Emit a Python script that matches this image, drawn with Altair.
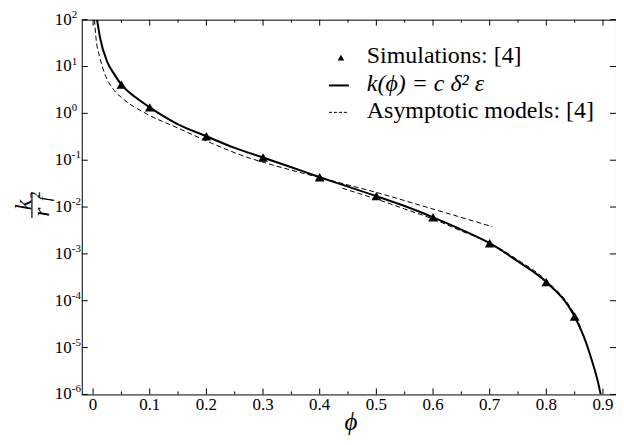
import altair as alt
import pandas as pd

# ---- data ----
sim_phi = [0.05, 0.1, 0.2, 0.3, 0.4, 0.5, 0.6, 0.7, 0.8, 0.85]
sim_k = [4.1, 1.34, 0.324, 0.114, 0.0434, 0.0171, 0.00604, 0.00169, 2.5e-4, 4.6e-5]

model_phi = [0.007, 0.0125, 0.025, 0.0375, 0.05, 0.075, 0.1, 0.15, 0.2, 0.25, 0.3, 0.35,
             0.4, 0.45, 0.5, 0.55, 0.6, 0.65, 0.7, 0.75, 0.8, 0.85, 0.87, 0.88, 0.89, 0.896]
model_k = [100, 40, 12.6, 6.8, 4.1, 2.2, 1.34, 0.583, 0.324, 0.183, 0.114, 0.0708,
           0.0434, 0.0273, 0.0171, 0.0105, 0.00604, 0.00331, 0.00169, 6.9e-4, 2.5e-4,
           4.6e-5, 1.29e-5, 5.5e-6, 2.1e-6, 1.0e-6]

asym_low_phi = [0.0025, 0.005, 0.0118, 0.0206, 0.035, 0.053, 0.094, 0.152, 0.211, 0.27,
                0.3, 0.4, 0.5, 0.6, 0.705]
asym_low_k = [100, 42, 15.8, 7.0, 3.35, 2.04, 0.984, 0.472, 0.226, 0.1175,
              0.0906, 0.0425, 0.0205, 0.00906, 0.0038]

asym_high_phi = [0.44, 0.469, 0.5, 0.55, 0.6, 0.65, 0.7, 0.75, 0.8, 0.85, 0.86]
asym_high_k = [0.0253, 0.0195, 0.0148, 0.0091, 0.00556, 0.00309, 0.00171, 7.4e-4,
               2.7e-4, 5.0e-5, 2.8e-5]

x_tick_major = [0, 0.1, 0.2, 0.3, 0.4, 0.5, 0.6, 0.7, 0.8, 0.9]
x_tick_labels = ["0", "0.1", "0.2", "0.3", "0.4", "0.5", "0.6", "0.7", "0.8", "0.9"]
x_tick_minor = [0.05, 0.15, 0.25, 0.35, 0.45, 0.55, 0.65, 0.75, 0.85]
y_tick_values = [1e-6, 1e-5, 1e-4, 1e-3, 1e-2, 1e-1, 1e0, 1e1, 1e2]
y_tick_base = ["10"] * 9
y_tick_exp = ["-6", "-5", "-4", "-3", "-2", "-1", "0", "1", "2"]

legend_labels = ["Simulations: [4]", "k(ϕ) = c δ² ε", "Asymptotic models: [4]"]
x_title = "ϕ"
y_title_num = "k"
y_title_den = "r"
y_title_sub = "f"
y_title_sup = "2"

FONT = "Liberation Serif"
W, H = 536, 376

df_sim = pd.DataFrame({"phi": sim_phi, "k": sim_k})
df_model = pd.DataFrame({"phi": model_phi, "k": model_k})
df_asym = pd.concat([
    pd.DataFrame({"phi": asym_low_phi, "k": asym_low_k, "seg": "low"}),
    pd.DataFrame({"phi": asym_high_phi, "k": asym_high_k, "seg": "high"}),
])
df_xlab = pd.DataFrame({"phi": x_tick_major, "lab": x_tick_labels})
df_ylab = pd.DataFrame({"k": y_tick_values, "base": y_tick_base, "exp": y_tick_exp})

xs = alt.Scale(domain=[-0.02, 0.923], nice=False, zero=False)
ys = alt.Scale(type="log", domain=[1e-6, 100], nice=False)

X = alt.X("phi:Q", scale=xs, axis=None)
Y = alt.Y("k:Q", scale=ys, axis=None)

model = alt.Chart(df_model).mark_line(color="black", strokeWidth=2, clip=True,
                                      interpolate="monotone").encode(
    x=X, y=Y, order="phi:Q")

asym = alt.Chart(df_asym).mark_line(color="black", strokeWidth=1, strokeDash=[5, 3],
                                    clip=True, interpolate="monotone").encode(
    x=X, y=Y, detail="seg:N", order="phi:Q")

sims = alt.Chart(df_sim).mark_point(shape="triangle-up", filled=True, color="black",
                                    size=95, opacity=1).encode(x=X, y=Y)

def xticks(vals, y0, y1):
    return alt.Chart(pd.DataFrame({"phi": vals})).mark_rule(color="black", strokeWidth=1).encode(
        x=X, y=alt.value(y0), y2=alt.value(y1))

def yticks(x0, x1):
    return alt.Chart(pd.DataFrame({"k": y_tick_values})).mark_rule(color="black", strokeWidth=1).encode(
        y=Y, x=alt.value(x0), x2=alt.value(x1))

ticks = [
    xticks(x_tick_major, H, H - 6), xticks(x_tick_minor, H, H - 3),
    xticks(x_tick_major, 0, 6), xticks(x_tick_minor, 0, 3),
    yticks(0, 6), yticks(W, W - 6),
]

# tick labels
xlab = alt.Chart(df_xlab).mark_text(font=FONT, fontSize=17, color="black",
                                    align="center", baseline="middle").encode(
    x=X, y=alt.value(H + 11), text="lab:N")
ylab_base = alt.Chart(df_ylab).mark_text(font=FONT, fontSize=17, color="black",
                                         align="left", baseline="middle").encode(
    y=Y, x=alt.value(-27), text="base:N")
ylab_exp = alt.Chart(df_ylab).mark_text(font=FONT, fontSize=11, color="black",
                                        align="left", baseline="middle", dy=-5).encode(
    y=Y, x=alt.value(-10), text="exp:N")

# legend
leg_tri = alt.Chart().mark_point(shape="triangle-up", filled=True, color="black",
                                 size=45, opacity=1).encode(x=alt.value(260), y=alt.value(38))
leg_solid = alt.Chart().mark_rule(color="black", strokeWidth=2).encode(
    x=alt.value(248), x2=alt.value(268), y=alt.value(66))
leg_dash = alt.Chart().mark_rule(color="black", strokeWidth=1, strokeDash=[3, 2]).encode(
    x=alt.value(248), x2=alt.value(268), y=alt.value(93))
leg_t1 = alt.Chart().mark_text(text=legend_labels[0], align="left", baseline="alphabetic",
                               font=FONT, fontSize=24, color="black").encode(
    x=alt.value(286), y=alt.value(43))
leg_t2 = alt.Chart().mark_text(text=legend_labels[1], align="left", baseline="alphabetic",
                               font=FONT, fontSize=24, fontStyle="italic", color="black").encode(
    x=alt.value(286), y=alt.value(72))
leg_t3 = alt.Chart().mark_text(text=legend_labels[2], align="left", baseline="alphabetic",
                               font=FONT, fontSize=24, color="black").encode(
    x=alt.value(286), y=alt.value(99))

# axis titles
xt = alt.Chart().mark_text(text=x_title, font=FONT, fontSize=25, fontStyle="italic",
                           color="black", baseline="alphabetic", align="center").encode(
    x=alt.value(270), y=alt.value(412))
yt_k = alt.Chart().mark_text(text=y_title_num, font=FONT, fontSize=24, fontStyle="italic",
                             color="black", angle=270, baseline="middle", align="center").encode(
    x=alt.value(-58), y=alt.value(186))
yt_bar = alt.Chart().mark_rule(color="black", strokeWidth=1.2).encode(
    x=alt.value(-50), y=alt.value(173), y2=alt.value(199))
yt_r = alt.Chart().mark_text(text=y_title_den, font=FONT, fontSize=24, fontStyle="italic",
                             color="black", angle=270, baseline="middle", align="center").encode(
    x=alt.value(-40), y=alt.value(193))
yt_f = alt.Chart().mark_text(text=y_title_sub, font=FONT, fontSize=16, fontStyle="italic",
                             color="black", angle=270, baseline="middle", align="center").encode(
    x=alt.value(-37), y=alt.value(180))
yt_2 = alt.Chart().mark_text(text=y_title_sup, font=FONT, fontSize=14,
                             color="black", angle=270, baseline="middle", align="center").encode(
    x=alt.value(-46), y=alt.value(176))

chart = alt.layer(
    model, asym, sims, *ticks, xlab, ylab_base, ylab_exp,
    leg_tri, leg_solid, leg_dash, leg_t1, leg_t2, leg_t3,
    xt, yt_k, yt_bar, yt_r, yt_f, yt_2,
).properties(
    width=W, height=H,
    autosize=alt.AutoSizeParams(type="none"),
    padding={"left": 74, "top": 11, "right": 0, "bottom": 42},
    background="white",
).configure_view(stroke="black", strokeWidth=1)

chart.save("out.html", embed_options={"renderer": "svg", "actions": False})
